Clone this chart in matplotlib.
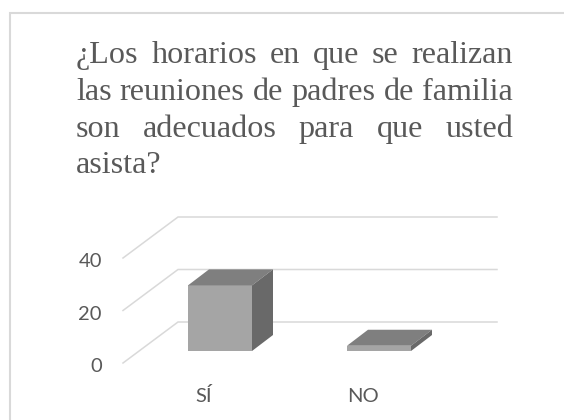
import matplotlib
matplotlib.use("Agg")
import matplotlib.pyplot as plt
from matplotlib.patches import Polygon

# data
categories = ["SÍ", "NO"]
values = [25, 2]
axis_ticks = [0, 20, 40]
title_lines = ["¿Los horarios en que se realizan",
               "las reuniones de padres de familia",
               "son adecuados para que usted",
               "asista?"]

# colours
text_colour = "#595959"
grid_colour = "#d9d9d9"
front_colour = "#a5a5a5"
top_colour = "#7f7f7f"
side_colour = "#696969"

width_px, height_px = 564, 420
px_per_category = 159.
px_per_value = 52.5 / 20.
zero_x_px = 220.   # centre of first bar
zero_y_px = 351.   # bar base line
bar_width = 64. / px_per_category

fig = plt.figure(figsize=(width_px / 100., height_px / 100.), dpi=100)
ax = fig.add_axes([0, 0, 1, 1])
ax.set_xlim(-zero_x_px / px_per_category, (width_px - zero_x_px) / px_per_category)
ax.set_ylim((zero_y_px - height_px) / px_per_value, zero_y_px / px_per_value)
ax.axis("off")


def oblique(x, y, dx_px, dy_px):
    # shift a data point by a depth offset given in pixels
    return x + dx_px / px_per_category, y + dy_px / px_per_value


# grid, front edge to back wall and across
grid_left, grid_right = (178. - zero_x_px) / px_per_category, (497. - zero_x_px) / px_per_category
for tick in axis_ticks:
    front = oblique(grid_left, tick, -55, -12)
    back = oblique(grid_left, tick, 0, 29)
    end = oblique(grid_right, tick, 0, 29)
    ax.plot([front[0], back[0], end[0]], [front[1], back[1], end[1]],
            color=grid_colour, linewidth=1.1, solid_joinstyle="miter", zorder=1)
    ax.text(front[0] - 21 / px_per_category, tick - 21 / px_per_value, str(tick), color=text_colour,
            family="Lato", fontsize=14.5, ha="right", va="baseline")

# bars
depth = (21, 16)
for i, (name, value) in enumerate(zip(categories, values)):
    left, right = i - bar_width / 2., i + bar_width / 2.
    ax.add_patch(Polygon([(left, 0), (right, 0), (right, value), (left, value)],
                         facecolor=front_colour, edgecolor="none", zorder=3))
    ax.add_patch(Polygon([(left, value), (right, value), oblique(right, value, *depth), oblique(left, value, *depth)],
                         facecolor=top_colour, edgecolor="none", zorder=3))
    ax.add_patch(Polygon([(right, 0), (right, value), oblique(right, value, *depth), oblique(right, 0, *depth)],
                         facecolor=side_colour, edgecolor="none", zorder=3))
    ax.text(i - 16 / px_per_category, -51 / px_per_value, name, color=text_colour, family="Lato", fontsize=14.5,
            ha="center", va="baseline")

# chart border
to_x = lambda p: (p - zero_x_px) / px_per_category
to_y = lambda p: (zero_y_px - p) / px_per_value
ax.plot([to_x(10.5), to_x(10.5), to_x(564)], [to_y(420), to_y(13), to_y(13)], color=grid_colour, linewidth=1.5,
        solid_joinstyle="miter")

# justified title, word by word
title_left, title_right = 76., 513.
baselines = [63., 100., 137., 173.]
title_size = 23.1
renderer = fig.canvas.get_renderer()
for line_no, line in enumerate(title_lines):
    words = line.split(" ")
    word_texts = [ax.text(0, to_y(baselines[line_no]), w, color=text_colour, family="Liberation Serif",
                          fontsize=title_size, ha="left", va="baseline") for w in words]
    widths = [t.get_window_extent(renderer).width for t in word_texts]
    gap = 5.4
    if line_no < len(title_lines) - 1:
        gap = (title_right - title_left - sum(widths)) / (len(words) - 1)
    x = title_left
    for t, w in zip(word_texts, widths):
        t.set_x(to_x(x))
        x += w + gap

fig.savefig("out.png", dpi=100)
